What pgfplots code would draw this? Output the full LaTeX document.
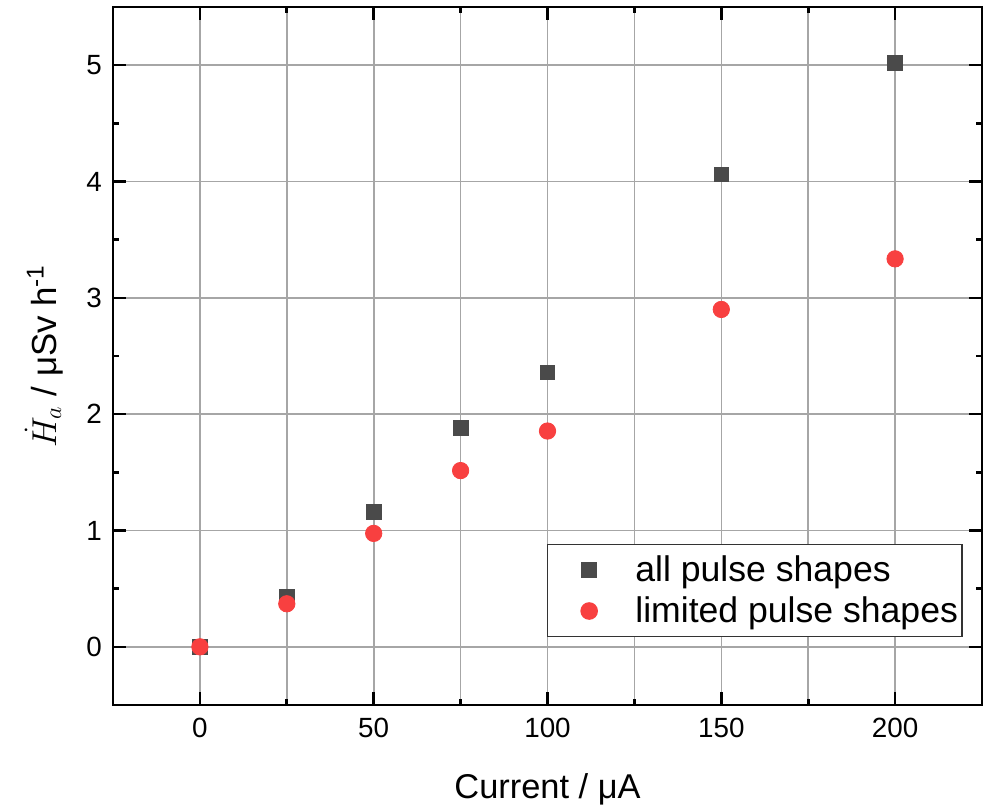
\documentclass[border=0pt]{standalone}
\usepackage{fontspec}
\setmainfont{Liberation Sans}
\usepackage{pgfplots}
\pgfplotsset{compat=1.18}
\definecolor{sqgray}{HTML}{4A4A4A}
\definecolor{cred}{HTML}{F84040}
\begin{document}
\begin{tikzpicture}
\begin{axis}[
  name=ax,
  scale only axis,
  width=434.5pt, height=349pt,
  xmin=-25, xmax=225, ymin=-0.5, ymax=5.5,
  xtick={0,50,...,200}, minor xtick={25,75,...,175},
  ytick={0,1,...,5}, minor ytick={-0.5,0.5,...,5.5},
  grid=both,
  major grid style={draw=black!35, line width=0.8pt},
  minor y grid style={draw=none},
  minor x grid style={draw=black!35, line width=0.8pt},
  axis line style={line width=1.3pt},
  tick style={line width=1.3pt, black},
  major tick length=6.5pt, minor tick length=3pt,
  tick align=inside,
  xtick pos=both, ytick pos=both,
  tick label style={font=\fontsize{13.9}{16}\selectfont},
  xticklabel shift=3pt,
  yticklabel shift=2pt,
  /pgf/number format/assume math mode=true,
  xlabel={Current / μA},
  ylabel={$\dot{H}_a$ / μSv h\textsuperscript{-1}},
  xlabel style={font=\fontsize{17.2}{20}\selectfont, yshift=-11pt},
  ylabel style={font=\fontsize{17.4}{20}\selectfont, yshift=5pt},
  legend style={at={(rel axis cs:0.4994,0.0974)}, anchor=south west,
    font=\fontsize{17.8}{19}\selectfont, draw=black!80, line width=0.6pt,
    inner xsep=1pt, inner ysep=3.75pt, row sep=2.5pt,
    nodes={inner xsep=1pt, inner ysep=1.75pt}},
  legend cell align=left,
  legend image code/.code={\path (0pt,0pt); \draw[#1] plot coordinates {(19.5pt,0pt)};},
]
\addplot[only marks, mark=square*, mark size=3.65pt, color=sqgray]
  coordinates {(0,0) (25,0.43) (50,1.16) (75,1.88) (100,2.36) (150,4.06) (200,5.02)};
\addlegendentry{\hspace{18pt}all pulse shapes}
\addplot[only marks, mark=*, mark size=4.1pt, color=cred]
  coordinates {(0,0) (25,0.37) (50,0.975) (75,1.515) (100,1.855) (150,2.90) (200,3.335)};
\addlegendentry{\hspace{18pt}limited pulse shapes}
\end{axis}
\pgfresetboundingbox
\path ([shift={(-56.5pt,-53.5pt)}]ax.south west) rectangle ([shift={(4pt,3.5pt)}]ax.north east);
\end{tikzpicture}
\end{document}
